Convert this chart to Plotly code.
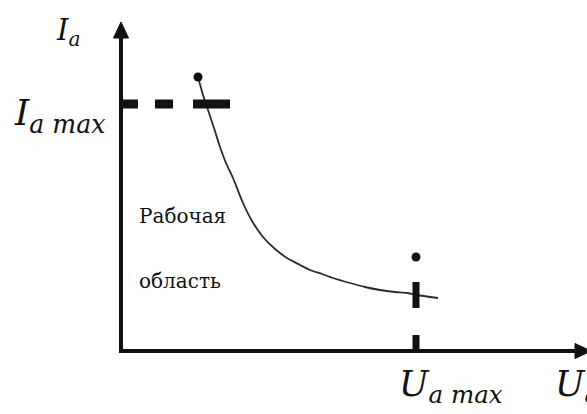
import plotly.graph_objects as go

# Anode characteristic: anode current vs anode voltage (arbitrary units)
u_curve = [77, 82, 87, 93, 99, 105, 112, 122, 131, 142, 154, 166, 179, 189,
           201, 212, 229, 244, 259, 274, 286, 296, 317]
i_curve = [274, 256, 241, 223, 204, 188, 173, 148, 130, 114, 102, 93, 86, 81,
           77, 73, 68, 64, 61, 59, 58, 56, 53]

# Limits of the working area
ia_max = 247
ua_max = 295

# End-point markers of the limit lines
dot_u = [77, ua_max]
dot_i = [274, 94]

# Plot window (data units)
x_range = [-121, 466]
y_range = [-63, 351]
y_axis_top = 329     # tip of the vertical arrow
x_axis_right = 470   # tip of the horizontal arrow
head = 16            # arrow head length
half = 7.5           # arrow head half width

ink = "#111111"
serif = "DejaVu Serif"

fig = go.Figure()

fig.add_trace(go.Scatter(
    x=u_curve, y=i_curve, mode="lines",
    line=dict(color="#2b2b2b", width=1.8, shape="spline", smoothing=0.6),
    hoverinfo="skip", showlegend=False,
))
fig.add_trace(go.Scatter(
    x=dot_u, y=dot_i, mode="markers",
    marker=dict(color=ink, size=9),
    hoverinfo="skip", showlegend=False,
))

shapes = [
    # axes
    dict(type="line", x0=0, y0=-2, x1=0, y1=y_axis_top - head,
         line=dict(color=ink, width=4)),
    dict(type="line", x0=-2, y0=0, x1=x_axis_right - head, y1=0,
         line=dict(color=ink, width=4)),
    dict(type="path",
         path=f"M {-half},{y_axis_top - head} L {half},{y_axis_top - head} L 0,{y_axis_top} Z",
         fillcolor=ink, line=dict(color=ink, width=1)),
    dict(type="path",
         path=f"M {x_axis_right - head},{-half} L {x_axis_right - head},{half} L {x_axis_right},0 Z",
         fillcolor=ink, line=dict(color=ink, width=1)),
    # current limit
    dict(type="line", x0=0, y0=ia_max, x1=109, y1=ia_max,
         line=dict(color=ink, width=9, dash="17px,17px,18px,20px,37px,10px")),
    # voltage limit
    dict(type="line", x0=ua_max, y0=0, x1=ua_max, y1=70,
         line=dict(color=ink, width=7, dash="16px,27px,26px,40px")),
]

annotations = [
    dict(x=-67, y=319, text="<i>I</i><sub><i>a</i></sub>",
         font=dict(size=29, family=serif, color=ink)),
    dict(x=-109, y=ia_max - 11, text="<i>I</i><sub><i>a max</i></sub>",
         font=dict(size=36, family=serif, color=ink)),
    dict(x=276, y=-35, text="<i>U</i><sub><i>a max</i></sub>",
         font=dict(size=35, family=serif, color=ink)),
    dict(x=432, y=-35, text="<i>U</i><sub><i>a</i></sub>",
         font=dict(size=35, family=serif, color=ink)),
    dict(x=16, y=135, text="Рабочая",
         font=dict(size=20, family=serif, color=ink)),
    dict(x=16, y=70, text="область",
         font=dict(size=20, family=serif, color=ink)),
]
for a in annotations:
    a.update(xref="x", yref="y", showarrow=False, xanchor="left", yanchor="middle")

fig.update_layout(
    width=587, height=414,
    margin=dict(l=0, r=0, t=0, b=0),
    paper_bgcolor="white", plot_bgcolor="white",
    xaxis=dict(range=x_range, visible=False, fixedrange=True),
    yaxis=dict(range=y_range, visible=False, fixedrange=True),
    shapes=shapes, annotations=annotations,
)

fig.write_html("out.html")
